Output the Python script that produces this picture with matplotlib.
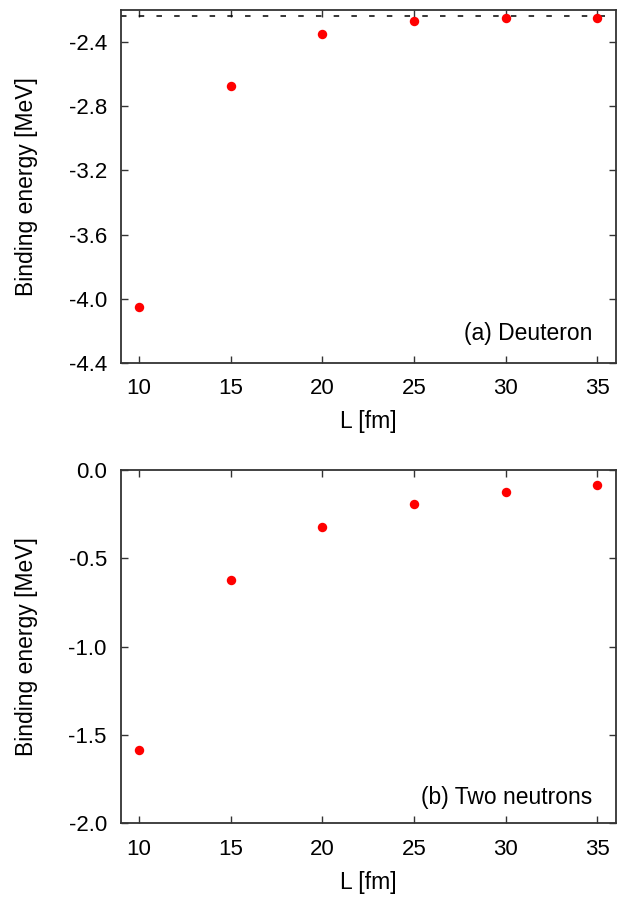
import matplotlib
matplotlib.use("Agg")
import matplotlib.pyplot as plt

plt.rcParams['font.family'] = ['Liberation Sans', 'DejaVu Sans']
plt.rcParams['font.size'] = 16

# box sizes L [fm]
L_values = [10, 15, 20, 25, 30, 35]

# binding energies [MeV]
deuteron_energy = [-4.05, -2.676, -2.35, -2.269, -2.251, -2.248]
neutron_energy = [-1.583, -0.623, -0.323, -0.192, -0.126, -0.087]

# infinite volume deuteron binding energy
deuteron_exact = -2.24

deuteron_yticks = [-4.4, -4.0, -3.6, -3.2, -2.8, -2.4]
neutron_yticks = [-2.0, -1.5, -1.0, -0.5, 0.0]
x_ticks = [10, 15, 20, 25, 30, 35]

fig = plt.figure(figsize=(6.23, 8.99), dpi=100)
ax1 = fig.add_axes([0.1937, 0.5962, 0.7946, 0.3927])
ax2 = fig.add_axes([0.1937, 0.0840, 0.7946, 0.3933])


def style_axes(ax):
    ax.tick_params(direction='in', top=True, right=True, length=5, width=1.0,
                   color='#333333')
    ax.tick_params(axis='x', pad=11)
    ax.tick_params(axis='y', pad=10)
    for s in ax.spines.values():
        s.set_linewidth(1.3)
        s.set_color('#333333')
    ax.set_xlim(9, 36)
    ax.set_xticks(x_ticks)
    ax.set_xlabel('L [fm]', fontsize=16.5, labelpad=8)
    ax.set_ylabel('Binding energy [MeV]', fontsize=16.5, labelpad=22)


# Deuteron panel
ax1.axhline(deuteron_exact, color='black', linestyle=(0, (3.6, 8.0)), linewidth=1.1)
ax1.plot(L_values, deuteron_energy, 'o', color='#ff0000', markersize=6.8, markeredgewidth=0)
ax1.set_ylim(-4.4, -2.2)
ax1.set_yticks(deuteron_yticks)
ax1.set_yticklabels([f'{v:.1f}' for v in deuteron_yticks])
style_axes(ax1)
ax1.text(0.953, 0.065, '(a) Deuteron', transform=ax1.transAxes,
         ha='right', va='baseline', fontsize=16.5)

# Two neutron panel
ax2.plot(L_values, neutron_energy, 'o', color='#ff0000', markersize=6.8, markeredgewidth=0)
ax2.set_ylim(-2.0, 0.0)
ax2.set_yticks(neutron_yticks)
ax2.set_yticklabels([f'{v:.1f}' for v in neutron_yticks])
style_axes(ax2)
ax2.text(0.953, 0.056, '(b) Two neutrons', transform=ax2.transAxes,
         ha='right', va='baseline', fontsize=16.5)

fig.savefig('out.png', dpi=100)
plt.close(fig)
